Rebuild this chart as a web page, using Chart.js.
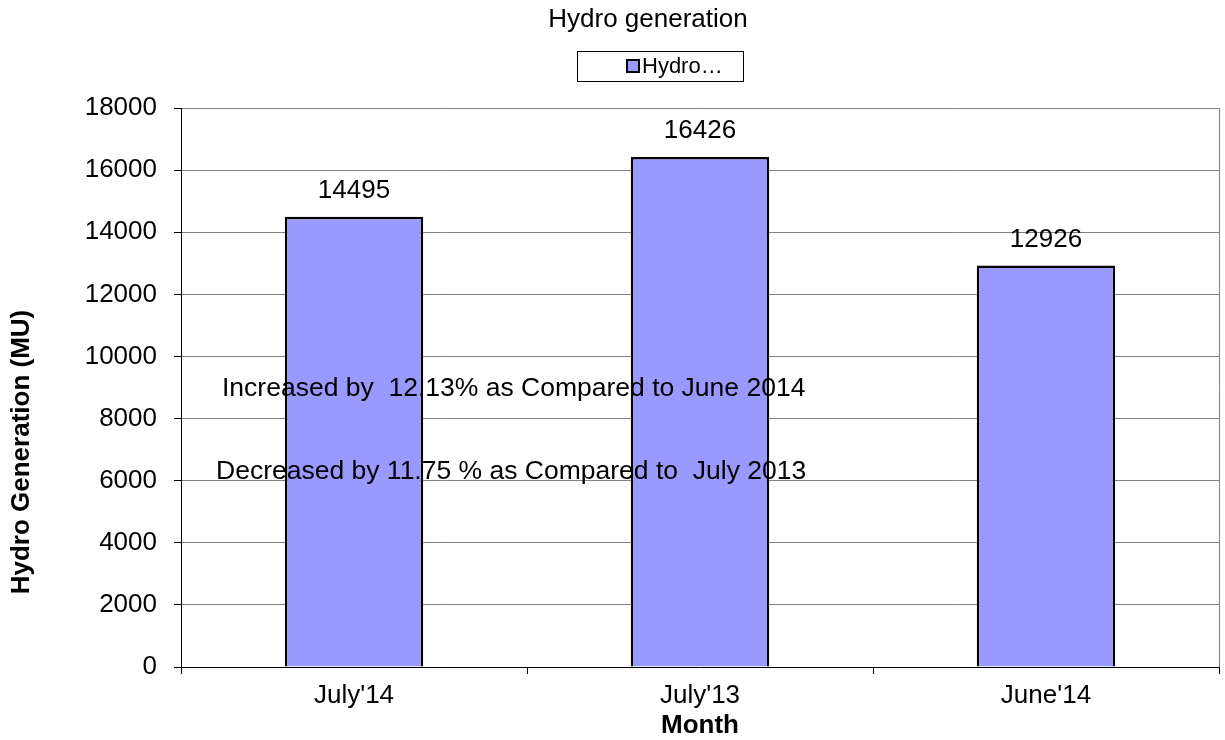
<!DOCTYPE html>
<html>
<head>
<meta charset="utf-8">
<script src="https://cdn.jsdelivr.net/npm/chart.js@4.4.1/dist/chart.umd.min.js"></script>
<style>
  html, body { margin: 0; padding: 0; background: #fff; }
  #wrap { width: 1225px; height: 740px; }
</style>
</head>
<body>
<div id="wrap"><canvas id="c"></canvas></div>
<script>
const months = ["July'14", "July'13", "June'14"];
const hydro = [14495, 16426, 12926];
const yTicks = [0, 2000, 4000, 6000, 8000, 10000, 12000, 14000, 16000, 18000];
const notes = [
  "Increased by  12.13% as Compared to June 2014",
  "Decreased by 11.75 % as Compared to  July 2013"
];

const FONT = "'Liberation Sans', Arial, sans-serif";

const extras = {
  id: 'extras',
  afterDraw(chart) {
    const ctx = chart.ctx;
    const a = chart.chartArea;
    ctx.save();
    // right border of plot
    ctx.strokeStyle = '#808080';
    ctx.lineWidth = 1;
    ctx.beginPath();
    ctx.moveTo(a.right + 0.5, a.top);
    ctx.lineTo(a.right + 0.5, a.bottom);
    ctx.stroke();

    // title
    ctx.fillStyle = '#000';
    ctx.font = '26px ' + FONT;
    ctx.textAlign = 'center';
    ctx.textBaseline = 'middle';
    ctx.fillText('Hydro generation', 648, 20);

    // legend box
    ctx.strokeStyle = '#000';
    ctx.lineWidth = 1;
    ctx.strokeRect(577.5, 51.5, 166, 30);
    ctx.fillStyle = '#9999FF';
    ctx.fillRect(627, 60, 12, 12);
    ctx.lineWidth = 2;
    ctx.strokeRect(627, 60, 12, 12);
    ctx.fillStyle = '#000';
    ctx.textAlign = 'left';
    ctx.font = '22px ' + FONT;
    ctx.fillText('Hydro…', 642, 67);

    // value labels
    ctx.font = '26px ' + FONT;
    ctx.textAlign = 'center';
    ctx.textBaseline = 'middle';
    chart.getDatasetMeta(0).data.forEach((bar, i) => {
      ctx.fillText(String(hydro[i]), bar.x, bar.y - 26);
    });

    // notes
    ctx.textAlign = 'left';
    ctx.font = '26.5px ' + FONT;
    ctx.fillText(notes[0], 222, 389);
    ctx.fillText(notes[1], 216, 472);

    // axis titles
    ctx.font = 'bold 26px ' + FONT;
    ctx.textAlign = 'center';
    ctx.fillText('Month', (a.left + a.right) / 2, 726);
    ctx.translate(22, 452);
    ctx.rotate(-Math.PI / 2);
    ctx.fillText('Hydro Generation (MU)', 0, 0);
    ctx.restore();
  }
};

new Chart(document.getElementById('c'), {
  type: 'bar',
  data: {
    labels: months,
    datasets: [{
      label: 'Hydro…',
      data: hydro,
      backgroundColor: '#9999FF',
      borderColor: '#000',
      borderWidth: 2.5,
      barPercentage: 0.4,
      categoryPercentage: 1.0
    }]
  },
  options: {
    responsive: true,
    maintainAspectRatio: false,
    animation: false,
    layout: { padding: { top: 108, right: 6, left: 0, bottom: 0 } },
    plugins: {
      legend: { display: false },
      title: { display: false },
      tooltip: { enabled: false }
    },
    scales: {
      x: {
        offset: true,
        grid: { offset: true, drawOnChartArea: false, drawTicks: true, tickLength: 7, color: '#000' },
        border: { color: '#000', width: 1 },
        ticks: { color: '#000', font: { size: 26, family: FONT }, padding: 6 },
        afterFit(s) { s.height = 73; }
      },
      y: {
        min: 0,
        max: 18000,
        afterBuildTicks(s) { s.ticks = yTicks.map(v => ({ value: v })); },
        grid: { color: '#808080', lineWidth: 1, tickLength: 7, tickColor: '#000' },
        border: { color: '#000', width: 1 },
        ticks: {
          color: '#000',
          font: { size: 26, family: FONT },
          padding: 17,
          callback: v => String(v)
        },
        afterFit(s) { s.width = 181; }
      }
    }
  },
  plugins: [extras]
});
</script>
</body>
</html>
